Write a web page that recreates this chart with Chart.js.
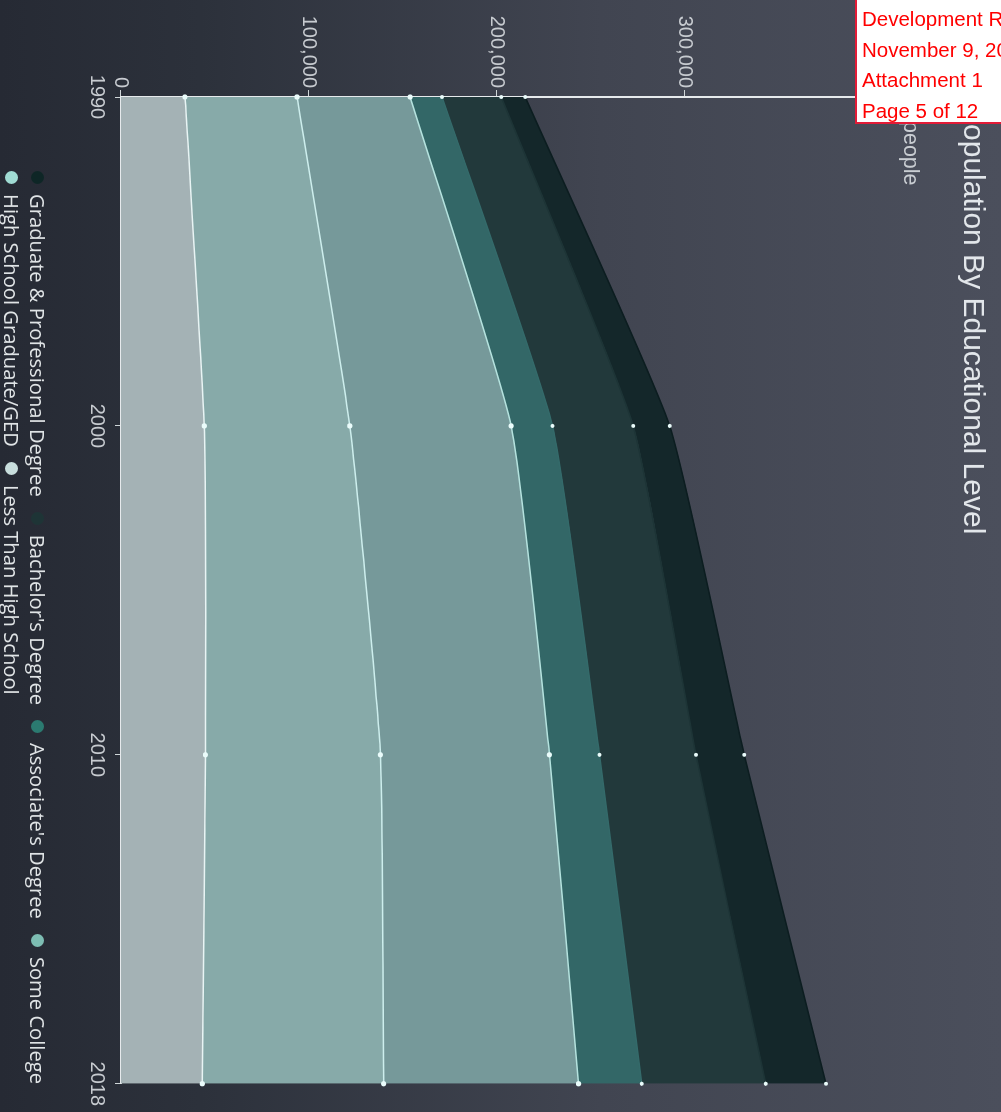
<!DOCTYPE html>
<html>
<head>
<meta charset="utf-8">
<title>Population By Educational Level</title>
<script src="https://cdn.jsdelivr.net/npm/chart.js@4.4.1/dist/chart.umd.min.js"></script>
<style>
  html, body {
    margin: 0;
    padding: 0;
    width: 1001px;
    height: 1112px;
    overflow: hidden;
    background: #2a2f3a;
  }
  /* the chart is laid out landscape and turned a quarter clockwise */
  .frame {
    position: absolute;
    left: 0;
    top: 0;
    width: 1112px;
    height: 1001px;
    transform-origin: 0 0;
    transform: translate(1001px, 0) rotate(90deg);
    background: linear-gradient(to bottom, #4b4f5c 0%, #414551 40%, #2c313b 80%, #262a34 100%);
  }
  .chart-box {
    position: absolute;
    left: 0;
    top: 0;
    width: 1112px;
    height: 1001px;
  }
  .title {
    position: absolute;
    left: 104px;
    top: 10px;
    font: 30px "Liberation Sans", Arial, sans-serif;
    color: #e2e6ea;
    white-space: nowrap;
  }
  .unit {
    position: absolute;
    left: 121px;
    top: 78px;
    font: 21.5px "Liberation Sans", Arial, sans-serif;
    color: #c9cdd2;
  }
  .legend {
    position: absolute;
    left: 171px;
    top: 950px;
    width: 940px;
    display: flex;
    flex-wrap: wrap;
    font: 20.2px "Open Sans", sans-serif;
    color: #e0e4e6;
  }
  .legend-item {
    display: flex;
    align-items: center;
    height: 26px;
    margin-right: 15px;
    white-space: nowrap;
  }
  .legend-dot {
    width: 13px;
    height: 13px;
    border-radius: 50%;
    margin-right: 10px;
  }
  .stamp {
    position: absolute;
    left: 855px;
    top: -2px;
    width: 180px;
    height: 126px;
    background: #fff;
    border: 2px solid #e31b37;
    box-sizing: border-box;
    padding: 4px 0 0 5px;
    font: 20.5px "Liberation Sans", Arial, sans-serif;
    line-height: 30.5px;
    color: #ff0000;
    white-space: nowrap;
  }
</style>
</head>
<body>
<div class="frame">
  <div class="chart-box"><canvas id="eduChart"></canvas></div>
  <div class="title">Population By Educational Level</div>
  <div class="unit">people</div>
  <div class="legend" id="eduLegend"></div>
</div>
<div class="stamp">
  Development Review<br>
  November 9, 2020<br>
  Attachment 1<br>
  Page 5 of 12
</div>

<script>
// Years and stacked series (people), bottom layer first
const years = ["1990", "2000", "2010", "2018"];
const lessThanHighSchool = [34100, 44400, 45000, 43300];
const highSchoolGrad = [59700, 77500, 93200, 96600];
const someCollege = [60200, 85900, 90000, 103800];
const associates = [17000, 22000, 26600, 33700];
const bachelors = [31500, 43000, 51400, 66000];
const graduate = [12800, 19500, 25800, 32100];
const valueTicks = [0, 100000, 200000, 300000, 400000];

const series = [
  { label: "Less Than High School", data: lessThanHighSchool, fill: "#a4b2b5", line: "#e8f4f4", dot: "#c8dedd", r: 2.6 },
  { label: "High School Graduate/GED", data: highSchoolGrad, fill: "#87aaa9", line: "#cdeeed", dot: "#a0dcd4", r: 2.6 },
  { label: "Some College", data: someCollege, fill: "#76999a", line: "#b4e2de", dot: "#7dbdb3", r: 2.6 },
  { label: "Associate's Degree", data: associates, fill: "#336767", line: "#346a6a", dot: "#2b7a70", r: 2 },
  { label: "Bachelor's Degree", data: bachelors, fill: "#22393b", line: "#1d3436", dot: "#1e3436", r: 2 },
  { label: "Graduate & Professional Degree", data: graduate, fill: "#14272a", line: "#0c1d20", dot: "#0e2626", r: 2 },
];

const tickFont = { family: "Liberation Sans", size: 20 };

var ctx = document.getElementById("eduChart").getContext("2d");
var eduChart = new Chart(ctx, {
  type: "line",
  data: {
    labels: years,
    datasets: series.map(function (s, i) {
      return {
        label: s.label,
        data: s.data,
        fill: i === 0 ? "origin" : "-1",
        backgroundColor: s.fill,
        borderColor: s.line,
        borderWidth: 1.5,
        tension: 0.15,
        pointRadius: s.r,
        pointBorderWidth: 0,
        pointBackgroundColor: "#eafcfb",
      };
    }),
  },
  options: {
    responsive: true,
    maintainAspectRatio: false,
    animation: false,
    layout: {
      padding: { left: 0, right: 28, top: 129, bottom: 80 },
    },
    plugins: {
      legend: { display: false },
      tooltip: { enabled: false },
    },
    scales: {
      x: {
        type: "category",
        offset: false,
        grid: { drawOnChartArea: false, drawTicks: true, tickLength: 6, color: "#cfd6d8" },
        border: { display: true, color: "#e6eaec", width: 2 },
        ticks: { color: "#c7cbd0", font: tickFont, padding: 6, maxRotation: 0, autoSkip: false },
        afterFit: function (scale) {
          scale.height = 41;
        },
      },
      y: {
        stacked: true,
        min: 0,
        max: 400000,
        afterBuildTicks: function (scale) {
          scale.ticks = valueTicks.map(function (v) {
            return { value: v };
          });
        },
        grid: { drawOnChartArea: false, drawTicks: true, tickLength: 7, color: "#cfd6d8" },
        border: { display: true, color: "#e6eaec", width: 2 },
        ticks: {
          color: "#c7cbd0",
          font: tickFont,
          padding: 2,
          callback: function (v) {
            return Number(v).toLocaleString("en-US");
          },
        },
        afterFit: function (scale) {
          scale.width = 97;
        },
      },
    },
  },
});

// Legend, top series first
var legendBox = document.getElementById("eduLegend");
series.slice().reverse().forEach(function (s) {
  var item = document.createElement("div");
  item.className = "legend-item";
  var dot = document.createElement("span");
  dot.className = "legend-dot";
  dot.style.background = s.dot;
  var txt = document.createElement("span");
  txt.textContent = s.label;
  item.appendChild(dot);
  item.appendChild(txt);
  legendBox.appendChild(item);
});
</script>
</body>
</html>
